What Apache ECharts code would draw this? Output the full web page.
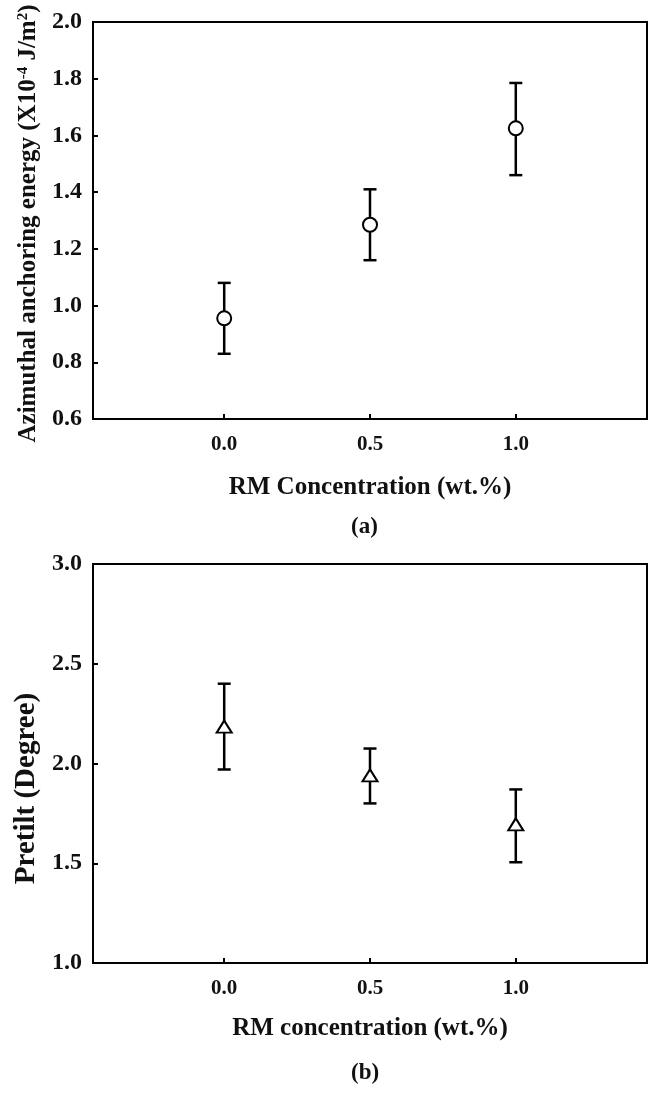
<!DOCTYPE html>
<html>
<head>
<meta charset="utf-8">
<script src="https://cdn.jsdelivr.net/npm/echarts@6/dist/echarts.min.js"></script>
<style>
html,body{margin:0;padding:0;background:#fff;}
#chart{width:664px;height:1096px;}
</style>
</head>
<body>
<div id="chart"></div>
<script>
// ---- data ----
const concentration = [0.0, 0.5, 1.0];
const xTicks = [0.0, 0.5, 1.0];

const anchoringEnergy = [0.955, 1.285, 1.625];
const anchoringLow = [0.83, 1.16, 1.46];
const anchoringHigh = [1.08, 1.41, 1.785];

const pretilt = [2.185, 1.94, 1.695];
const pretiltLow = [1.97, 1.80, 1.505];
const pretiltHigh = [2.40, 2.075, 1.87];

const SERIF = '"Liberation Serif", "Times New Roman", serif';

function errRender(params, api) {
  const x = api.value(0);
  const lo = api.coord([x, api.value(1)]);
  const hi = api.coord([x, api.value(2)]);
  const w = 6.5;
  const st = {stroke: '#000', lineWidth: 2.5};
  return {
    type: 'group',
    children: [
      {type: 'line', shape: {x1: lo[0], y1: lo[1], x2: hi[0], y2: hi[1]}, style: st},
      {type: 'line', shape: {x1: lo[0] - w, y1: lo[1], x2: lo[0] + w, y2: lo[1]}, style: st},
      {type: 'line', shape: {x1: hi[0] - w, y1: hi[1], x2: hi[0] + w, y2: hi[1]}, style: st}
    ]
  };
}

function xAxisCfg(gridIndex, name, gap) {
  return {
    type: 'value', gridIndex: gridIndex, min: -0.45, max: 1.45,
    name: name, nameLocation: 'middle', nameGap: gap,
    nameTextStyle: {fontFamily: SERIF, fontWeight: 'bold', fontSize: 25, color: '#111'},
    axisLine: {show: true, onZero: false, lineStyle: {color: '#000', width: 2}},
    axisTick: {show: true, inside: true, length: 5, customValues: xTicks, lineStyle: {color: '#000', width: 2}},
    axisLabel: {customValues: xTicks, margin: 15, fontFamily: SERIF, fontWeight: 'bold', fontSize: 21, color: '#111',
      formatter: v => v.toFixed(1)},
    splitLine: {show: false}
  };
}

function yAxisCfg(gridIndex, min, max, interval, name, gap, size, pad) {
  return {
    type: 'value', gridIndex: gridIndex, min: min, max: max, interval: interval,
    name: name, nameLocation: 'middle', nameGap: gap, nameRotate: 90,
    nameTextStyle: {fontFamily: SERIF, fontWeight: 'bold', fontSize: size, color: '#111', padding: pad,
      rich: {sup: {fontFamily: SERIF, fontWeight: 'bold', fontSize: 15, color: '#111', verticalAlign: 'top', padding: [0, 0, 10, 0]}}},
    axisLine: {show: true, onZero: false, lineStyle: {color: '#000', width: 2}},
    axisTick: {show: true, inside: true, length: 5, lineStyle: {color: '#000', width: 2}},
    axisLabel: {margin: 11, fontFamily: SERIF, fontWeight: 'bold', fontSize: 24, color: '#111',
      formatter: v => v.toFixed(1)},
    splitLine: {show: false}
  };
}

const chart = echarts.init(document.getElementById('chart'), null, {renderer: 'canvas'});
chart.setOption({
  backgroundColor: '#fff',
  animation: false,
  grid: [
    {left: 93, right: 17, top: 22, height: 397, show: true, borderColor: '#000', borderWidth: 2, containLabel: false, outerBoundsMode: 'none'},
    {left: 93, right: 17, top: 564, height: 399, show: true, borderColor: '#000', borderWidth: 2, containLabel: false, outerBoundsMode: 'none'}
  ],
  xAxis: [
    xAxisCfg(0, 'RM Concentration (wt.%)', 56),
    xAxisCfg(1, 'RM concentration (wt.%)', 53)
  ],
  yAxis: [
    yAxisCfg(0, 0.6, 2.0, 0.2, 'Azimuthal anchoring energy (X10{sup|-4} J/m{sup|2})', 49, 25, [0, 6, 0, 0]),
    yAxisCfg(1, 1.0, 3.0, 0.5, 'Pretilt (Degree)', 51, 29, [0, 50, 0, 0])
  ],
  graphic: [
    {type: 'text', left: 365 - 14, top: 516, style: {text: '(a)', font: 'bold 23px ' + SERIF, fill: '#111'}},
    {type: 'text', left: 365 - 14, top: 1062, style: {text: '(b)', font: 'bold 23px ' + SERIF, fill: '#111'}}
  ],
  series: [
    {
      type: 'custom', xAxisIndex: 0, yAxisIndex: 0, renderItem: errRender, z: 2,
      encode: {x: 0, y: [1, 2]},
      data: concentration.map((c, i) => [c, anchoringLow[i], anchoringHigh[i]])
    },
    {
      type: 'scatter', xAxisIndex: 0, yAxisIndex: 0, z: 5,
      symbol: 'circle', symbolSize: 14,
      itemStyle: {color: '#fff', borderColor: '#000', borderWidth: 2, opacity: 1},
      data: concentration.map((c, i) => [c, anchoringEnergy[i]])
    },
    {
      type: 'custom', xAxisIndex: 1, yAxisIndex: 1, renderItem: errRender, z: 2,
      encode: {x: 0, y: [1, 2]},
      data: concentration.map((c, i) => [c, pretiltLow[i], pretiltHigh[i]])
    },
    {
      type: 'scatter', xAxisIndex: 1, yAxisIndex: 1, z: 5,
      symbol: 'triangle', symbolSize: [15, 12],
      itemStyle: {color: '#fff', borderColor: '#000', borderWidth: 2, opacity: 1},
      data: concentration.map((c, i) => [c, pretilt[i]])
    }
  ]
});
</script>
</body>
</html>
